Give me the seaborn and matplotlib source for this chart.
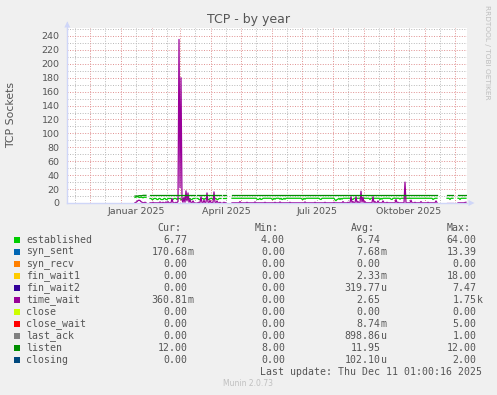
import numpy as np
import pandas as pd
import matplotlib
matplotlib.use("Agg")
import matplotlib.pyplot as plt
import seaborn as sns
from matplotlib.patches import Rectangle, Polygon

# ---------------- data (days since 2025-01-01, one value per day) ----------------
seg_start_day = [14, 29, 76, 102, 111, 326, 337]

established = [
    [8, 8.5, 9, 9, 8, 8, 8.5, 8, 7.5, 8, 8.5, 8],
    [6.5, 6.5, 5, 5, 6.5, 6.5, 6.5, 5, 5, 6.5,
     6.5, 5, 5, 5, 6.5, 6.5, 5, 5, 6.5, 6.5,
     6.5, 6.5, 5, 5, 6.5, 6.5, 6.5, 5, 6.5, 6.5,
     6.5, 5, 5, 6.5, 6.5, 6.5, 5, 5, 6.5, 6.5,
     6.5, 5, 5, 6.5, 6.5, 6.5],
    [6.5, 6.5, 5, 5, 6.5, 6.5, 6.5, 5, 6.5, 6.5,
     6.5, 5, 5, 6.5, 6.5, 6.5, 5, 6.5, 6.5, 6.5,
     5, 5, 6.5, 6.5, 6.5],
    [6.8, 6.8, 6.8, 6.8],
    [6.8, 6.8, 6.8, 6.8, 6.8, 6.8, 6.8, 6.8, 6.8, 6.8,
     6.8, 6.8, 6.8, 6.8, 6.8, 6.8, 6.8, 6.8, 6.8, 6.8,
     6.8, 6.8, 6.8, 6.8, 6.8, 5.5, 5, 5.5, 6.8, 5,
     5.5, 6.8, 6.8, 6.8, 6.8, 6.8, 6.8, 6.8, 6.8, 6.8,
     5.5, 5, 6.8, 5.5, 6.8, 6.8, 6.8, 6.8, 5.5, 6.8,
     5, 5.5, 6.8, 5.5, 6.8, 6.8, 6.8, 6.8, 6.8, 6.8,
     6.8, 6.8, 6.8, 6.8, 6.8, 6.8, 6.8, 6.8, 6.8, 6.8,
     5.5, 5, 6.8, 5.5, 6.8, 6.8, 6.8, 6.8, 6.8, 6.8,
     6.8, 6.8, 6.8, 6.8, 6.8, 6.8, 6.8, 6.8, 5.5, 5,
     6.8, 6.8, 6.8, 6.8, 6.8, 6.8, 6.8, 6.8, 6.8, 6.8,
     6.8, 6.8, 6.8, 4.5, 3.3, 5, 5.5, 6.8, 5, 6.8,
     5.5, 6.8, 6.8, 6.8, 6.8, 6.8, 6.8, 6.8, 6.8, 6.8,
     5.5, 5, 6.8, 6.8, 6.8, 6.8, 6.8, 6.8, 6.8, 6.8,
     6.8, 6.8, 6.8, 6.8, 6.8, 6.8, 6.8, 6.8, 5, 6.8,
     6.8, 6.8, 6.8, 6.8, 6.8, 6.8, 6.8, 6.8, 5, 6.8,
     5.5, 6.8, 6.8, 6.8, 6.8, 6.8, 6.8, 6.8, 6.8, 5.5,
     5, 6.8, 6.8, 6.8, 6.8, 6.8, 6.8, 6.8, 5.5, 6.8,
     6.8, 6.8, 6.8, 6.8, 6.8, 6.8, 6.8, 6.8, 6.8, 6.8,
     6.8, 6.8, 6.8, 6.8, 6.8, 6.8, 6.8, 6.8, 6.8, 6.8,
     6.8, 6.8, 6.8, 6.8, 6.8, 6.8, 6.8, 6.8, 6.8, 6.8,
     6.8, 5, 6, 6.8, 6.8, 6.8],
    [6.8, 6.8, 6.8, 5, 6.8, 6.8, 6.8],
    [6.8, 6.8, 5, 6.8, 6.8, 6.8, 6.8, 6.8, 6.8],
]

time_wait = [
    [0.5, 1, 2, 3.5, 4, 3.5, 2, 1, 0.5, 0.5, 1, 0.5],
    [0.3, 0.3, 0.3, 1, 0.3, 0.3, 0.3, 0.3, 0.3, 0.3,
     1.5, 0.3, 0.3, 1, 0.3, 0.3, 1.5, 0.3, 2, 0.3,
     0.3, 0.3, 6.5, 0.5, 0.3, 0.3, 1, 0.3, 2, 235,
     22, 180, 4, 1, 8, 1, 17.5, 3, 14.5, 1,
     5, 0.5, 0.3, 3, 0.3, 0.3],
    [0.3, 0.3, 1, 0.5, 9, 0.5, 0.3, 4, 0.3, 1,
     14.5, 1, 0.3, 4, 0.3, 1, 0.5, 16, 1, 0.3,
     3, 0.3, 0.3, 1, 0.3],
    [0.5, 1, 0.5, 0.3],
    [0.3, 0.3, 0.3, 0.3, 0.3, 0.3, 0.3, 0.3, 2, 0.3,
     0.3, 0.3, 0.3, 0.3, 0.3, 1, 0.3, 0.3, 0.3, 0.3,
     0.3, 0.3, 0.3, 1.5, 0.3, 0.3, 0.3, 0.3, 0.3, 0.3,
     0.3, 0.3, 0.3, 1, 0.3, 0.3, 0.3, 0.3, 0.3, 0.3,
     0.3, 0.3, 0.3, 1, 0.3, 0.3, 0.3, 0.3, 1.5, 0.3,
     0.3, 0.3, 0.3, 0.3, 0.3, 0.3, 0.3, 0.3, 1, 0.3,
     0.3, 0.3, 0.3, 0.3, 0.3, 0.3, 0.3, 0.3, 0.3, 0.3,
     0.3, 0.3, 0.3, 1.5, 0.3, 0.3, 0.3, 0.3, 0.3, 0.3,
     0.3, 0.3, 0.3, 1, 0.3, 0.3, 0.3, 0.3, 0.3, 0.3,
     0.3, 0.3, 0.3, 1, 0.3, 0.3, 0.3, 0.3, 0.3, 0.3,
     0.3, 0.3, 1, 0.3, 0.3, 0.3, 0.3, 0.3, 0.3, 0.3,
     0.3, 2, 0.3, 0.3, 0.3, 0.3, 1, 0.3, 0.3, 9,
     0.5, 2, 0.3, 0.3, 9, 0.5, 2, 0.3, 0.3, 17,
     1, 8, 0.5, 2, 0.3, 0.3, 0.3, 0.3, 0.3, 0.3,
     0.5, 9, 0.5, 2, 0.3, 0.3, 3, 0.3, 0.3, 0.3,
     0.3, 3, 0.3, 0.3, 0.3, 1, 0.3, 0.3, 0.3, 0.3,
     0.3, 0.3, 0.3, 0.3, 5, 0.3, 1, 0.3, 0.3, 0.3,
     0.3, 0.3, 0.3, 30, 0.5, 0.3, 0.3, 0.3, 0.3, 4,
     0.3, 0.3, 0.3, 1, 0.3, 0.3, 0.3, 0.3, 0.3, 2,
     0.3, 0.3, 0.3, 0.3, 0.3, 0.3, 1, 0.3, 0.3, 0.3,
     0.3, 0.3, 0.3, 0.3, 3, 0.5],
    [0.3, 0.3, 0.3, 0.3, 0.3, 0.3, 0.3],
    [0.3, 0.3, 0.3, 0.3, 0.3, 0.3, 0.3, 0.8, 1],
]

listen = [
    [10, 10, 10, 10, 10.5, 10.5, 10.5, 10.5, 11, 11, 11, 11],
    [12, 12, 12, 12, 12, 12, 12, 12, 12, 12, 12, 12, 12, 12, 12, 12, 12, 12, 12, 12,
     12, 12, 12, 12, 12, 12, 12, 12, 12, 12, 12, 12, 12, 12, 12, 12, 12, 12, 12, 12,
     12, 12, 12, 12, 12, 12],
    [12, 12, 12, 12, 12, 12, 12, 12, 12, 12, 12, 12, 12, 12, 12, 12, 12, 12, 12, 12,
     12, 12, 12, 12, 12],
    [12, 12, 12, 12],
    [12, 12, 12, 12, 12, 12, 12, 12, 12, 12, 12, 12, 12, 12, 12, 12, 12, 12, 12, 12,
     12, 12, 12, 12, 12, 12, 12, 12, 12, 12, 12, 12, 12, 12, 12, 12, 12, 12, 12, 12,
     12, 12, 12, 12, 12, 12, 12, 12, 12, 12, 12, 12, 12, 12, 12, 12, 12, 12, 12, 12,
     12, 12, 12, 12, 12, 12, 12, 12, 12, 12, 12, 12, 12, 12, 12, 12, 12, 12, 12, 12,
     12, 12, 12, 12, 12, 12, 12, 12, 12, 12, 12, 12, 12, 12, 12, 12, 12, 12, 12, 12,
     12, 12, 12, 12, 12, 12, 12, 12, 12, 12, 12, 12, 12, 12, 12, 12, 12, 12, 12, 12,
     12, 12, 12, 12, 12, 12, 12, 12, 12, 12, 12, 12, 12, 12, 12, 12, 12, 12, 12, 12,
     12, 12, 12, 12, 12, 12, 12, 12, 12, 12, 12, 12, 12, 12, 12, 12, 12, 12, 12, 12,
     12, 12, 12, 12, 12, 12, 12, 12, 12, 12, 12, 12, 12, 12, 12, 12, 12, 12, 12, 12,
     12, 12, 12, 12, 12, 12, 12, 12, 12, 12, 12, 12, 12, 12, 12, 12, 12, 12, 12, 12,
     12, 12, 12, 12, 12, 12],
    [12, 12, 12, 12, 12, 12, 12],
    [12, 12, 12, 12, 12, 12, 12, 12, 12],
]

legend_names = ["established", "syn_sent", "syn_recv", "fin_wait1", "fin_wait2",
                "time_wait", "close", "close_wait", "last_ack", "listen", "closing"]
legend_colors = ["#00CC00", "#0066B3", "#FF8000", "#FFCC00", "#330099",
                 "#990099", "#CCFF00", "#FF0000", "#808080", "#008F00", "#00487D"]
cur_vals = ["6.77", "170.68m", "0.00", "0.00", "0.00", "360.81m", "0.00", "0.00",
            "0.00", "12.00", "0.00"]
min_vals = ["4.00", "0.00", "0.00", "0.00", "0.00", "0.00", "0.00", "0.00",
            "0.00", "8.00", "0.00"]
avg_vals = ["6.74", "7.68m", "0.00", "2.33m", "319.77u", "2.65", "0.00", "8.74m",
            "898.86u", "11.95", "102.10u"]
max_vals = ["64.00", "13.39", "0.00", "18.00", "7.47", "1.75k", "0.00", "5.00",
            "1.00", "12.00", "2.00"]

y_ticks = [0, 20, 40, 60, 80, 100, 120, 140, 160, 180, 200, 220, 240]
x_tick_days = [15, 105, 196, 288]
x_tick_labels = ["Januar 2025", "April 2025", "Juli 2025", "Oktober 2025"]

title = "TCP - by year"
ylabel = "TCP Sockets"
last_update = "Last update: Thu Dec 11 01:00:16 2025"

# ---------------- build table ----------------
series_map = {"established": established, "time_wait": time_wait, "listen": listen}
rows = []
for name, segs in series_map.items():
    for k, (start, vals) in enumerate(zip(seg_start_day, segs)):
        for i, v in enumerate(vals):
            rows.append((name, k, start + i, v))
df = pd.DataFrame(rows, columns=["series", "seg", "day", "value"])
palette = {n: c for n, c in zip(legend_names, legend_colors)}

# ---------------- figure ----------------
W, H = 497, 395
fig = plt.figure(figsize=(W / 100, H / 100), dpi=100, facecolor="#F0F0F0")
ax = fig.add_axes([67 / W, (H - 203) / H, 400 / W, 175 / H])
ax.set_facecolor("white")

TXT = "#555555"
MGRID = "#E09090"
GRID = "#B8B8B8"
AXC = "#CFD6F8"

x0, x1 = -54, 346
ax.set_xlim(x0, x1)
ax.set_ylim(0, 251.4)

origin = pd.Timestamp("2025-01-01")
month_starts = pd.date_range("2024-11-01", "2025-12-31", freq="MS")
for ms in month_starts:
    d = (ms - origin).days
    if x0 < d < x1:
        ax.axvline(d, color=MGRID, lw=0.7, ls=(0, (1, 1.6)), zorder=1)
    dm = d + 15
    if x0 < dm < x1:
        ax.axvline(dm, color=GRID, lw=0.7, ls=(0, (1, 1.6)), zorder=0.9)
for v in range(10, 252, 10):
    if v % 20 == 0:
        ax.axhline(v, color=MGRID, lw=0.7, ls=(0, (1, 1.6)), zorder=1)
    else:
        ax.axhline(v, color=GRID, lw=0.7, ls=(0, (1, 1.6)), zorder=0.9)

sns.lineplot(data=df, x="day", y="value", hue="series",
             hue_order=["established", "time_wait", "listen"],
             palette=palette, units="seg", estimator=None, sort=True,
             legend=False, linewidth=0.9, ax=ax, zorder=3)

ax.set_xlabel("")
ax.set_ylabel("")
ax.set_yticks(y_ticks)
ax.set_yticklabels([str(t) for t in y_ticks])
ax.set_xticks(x_tick_days)
ax.set_xticklabels(x_tick_labels)
ax.tick_params(axis="y", length=0, pad=5.3, labelsize=6.8, labelcolor=TXT)
ax.tick_params(axis="x", length=0, pad=3.0, labelsize=6.8, labelcolor=TXT)
for s in ["top", "right"]:
    ax.spines[s].set_visible(False)
for s in ["left", "bottom"]:
    ax.spines[s].set_color(AXC)
    ax.spines[s].set_linewidth(1.0)
    ax.spines[s].set_zorder(5)

# ---------------- overlay for texts ----------------
ov = fig.add_axes([0, 0, 1, 1])
ov.set_xlim(0, W)
ov.set_ylim(H, 0)
ov.axis("off")

# arrows
ov.add_patch(Polygon([[64.3, 27.5], [70.3, 27.5], [67.3, 21.5]], closed=True,
                     facecolor=AXC, edgecolor="none"))
ov.add_patch(Polygon([[468.5, 200.0], [468.5, 206.0], [474.5, 203.0]], closed=True,
                     facecolor=AXC, edgecolor="none"))
ov.plot([67.3, 67.3], [21.5, 30], color=AXC, lw=0.8)

ov.text(248.5, 19, title, ha="center", va="center", fontsize=9, color=TXT)
ov.text(11, 115.5, ylabel, ha="center", va="center", rotation=90,
        fontsize=7.8, color=TXT)
ov.text(486.5, 52.5, "RRDTOOL / TOBI OETIKER", ha="center", va="center",
        rotation=270, fontsize=5.3, color="#BEBEBE")
ov.text(248, 383.5, "Munin 2.0.73", ha="center", va="center",
        fontsize=5.5, color="#C0C0C0")

MONO = "DejaVu Sans Mono"
FS = 7.1
cw = 5.93
col_end = [187.5, 285.0, 380.7, 476.7]
headers = ["Cur:", "Min:", "Avg:", "Max:"]
for h, e in zip(headers, col_end):
    ov.text(e - cw, 228, h, ha="right", va="center", family=MONO, fontsize=FS,
            color=TXT)

def put_val(x_end, y, s):
    if s[-1].isalpha():
        num, suf = s[:-1], s[-1]
    else:
        num, suf = s, ""
    ov.text(x_end, y, num, ha="right", va="center", family=MONO, fontsize=FS,
            color=TXT)
    if suf:
        ov.text(x_end, y, suf, ha="left", va="center", family=MONO, fontsize=FS,
                color=TXT)

for i, name in enumerate(legend_names):
    y = 239.8 + 12 * i
    ov.add_patch(Rectangle((14, y - 3), 6, 6, facecolor=legend_colors[i],
                           edgecolor="none"))
    ov.text(26, y, name, ha="left", va="center", family=MONO, fontsize=FS,
            color=TXT)
    for vals, e in zip([cur_vals, min_vals, avg_vals, max_vals], col_end):
        put_val(e, y, vals[i])

ov.text(481.7, 371.8, last_update, ha="right", va="center", family=MONO,
        fontsize=FS, color=TXT)

fig.savefig("out.png", dpi=100, facecolor=fig.get_facecolor())
